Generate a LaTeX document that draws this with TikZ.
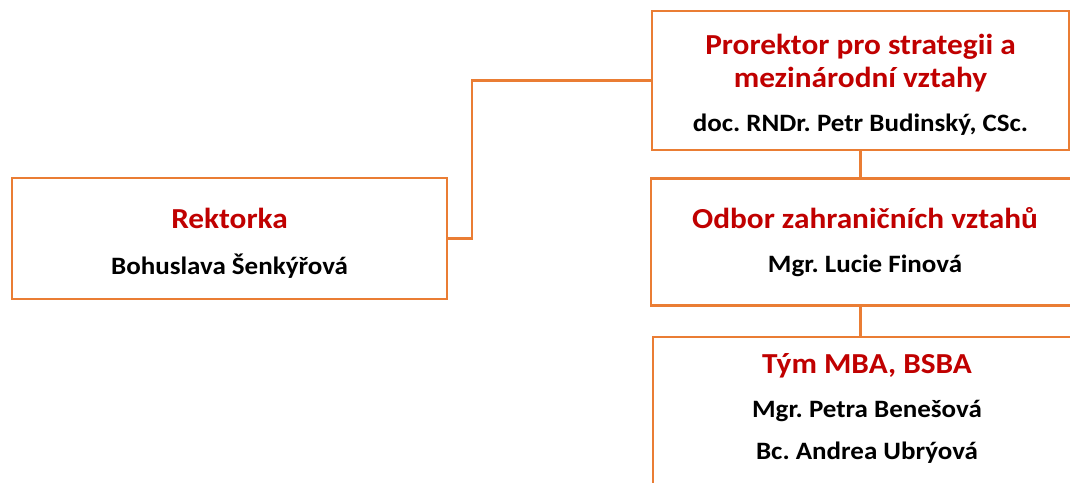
\documentclass[tikz,border=0pt]{standalone}
\usepackage{fontspec}
\setmainfont{Carlito}[FakeStretch=1.08]
\usetikzlibrary{positioning}
\definecolor{boxorange}{RGB}{234,125,52}
\definecolor{titlered}{RGB}{192,0,0}
\newcommand{\unittitle}[1]{{\color{titlered}\fontsize{29}{30}\selectfont #1}}
\frenchspacing

\begin{document}
\begin{tikzpicture}[
    x=1pt, y=-1pt,
    unit/.style={rectangle, draw=boxorange, line width=2.5pt, fill=white, align=center, inner sep=0pt, font=\fontsize{25}{30}\selectfont\bfseries},
    link/.style={draw=boxorange, line width=2.2pt}
]
    \clip (0,0) rectangle (1070,482);

    % Rector
    \node [unit, minimum width=435pt, minimum height=121pt] (rektor) at (229.5,238.5)
        {\rule{0pt}{29pt}\unittitle{Rektorka}\\[16pt] Bohuslava Šenkýřová};

    % Vice-rector
    \node [unit, minimum width=417pt, minimum height=139pt] (prorektor) at (860.5,80.5)
        {\rule{0pt}{29pt}\unittitle{Prorektor pro strategii a}\\[3pt]\unittitle{mezinárodní vztahy}\\[14pt] doc. RNDr. Petr Budinský, CSc.};

    % Office and team
    \node [unit, minimum width=428pt, minimum height=127pt, below=26pt of prorektor.south west, anchor=north west, xshift=-1pt] (odbor)
        {\unittitle{Odbor zahraničních vztahů}\\[14pt] Mgr. Lucie Finová};
    \node [unit, minimum width=428pt, minimum height=180pt, below=29pt of odbor.south west, anchor=north west, xshift=2pt] (tym)
        {\unittitle{Tým MBA, BSBA}\\[14pt] Mgr. Petra Benešová\\[12pt] Bc. Andrea Ubrýová\rule[-41pt]{0pt}{41pt}};

    % Links
    \draw [link] (rektor.east) -- ++(24,0) |- (prorektor.west);
    \draw [link] (prorektor.south) -- (prorektor.south |- odbor.north);
    \draw [link] (prorektor.south |- odbor.south) -- (prorektor.south |- tym.north);
\end{tikzpicture}
\end{document}
